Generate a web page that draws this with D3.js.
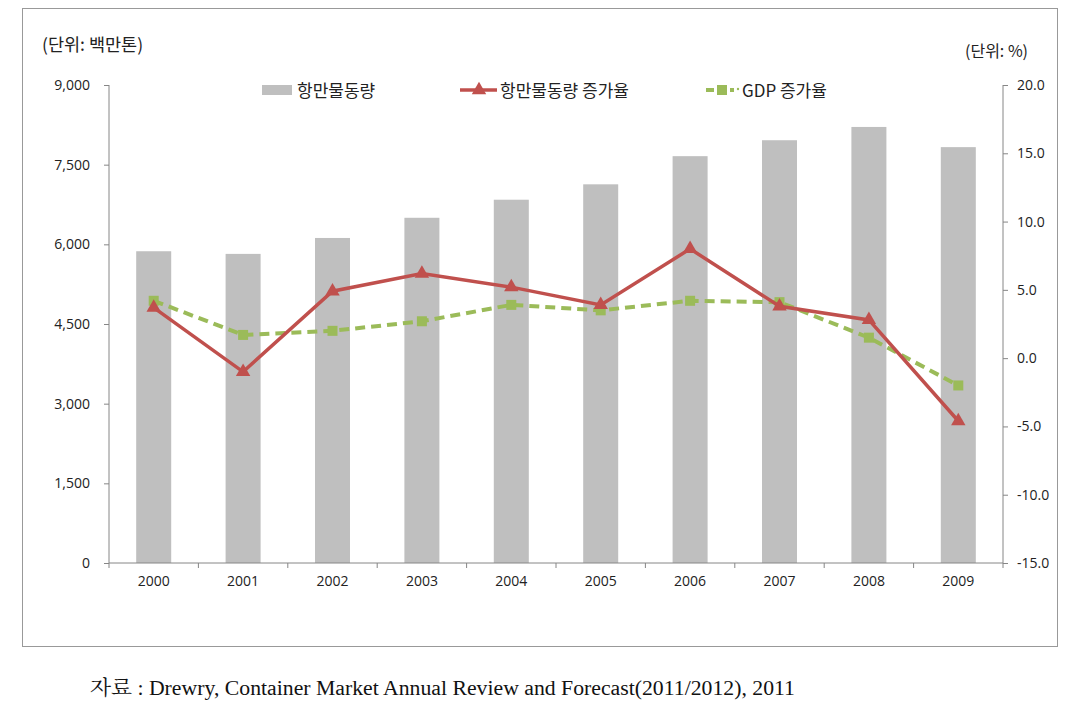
<!DOCTYPE html>
<html><head><meta charset="utf-8">
<script src="https://cdn.jsdelivr.net/npm/d3@7"></script>
<style>body{margin:0;background:#fff}svg text{font-family:"Noto Sans CJK KR","Noto Sans",sans-serif}</style>
</head><body>
<svg id="c" width="1067" height="719"></svg>
<script>
const years = ["2000","2001","2002","2003","2004","2005","2006","2007","2008","2009"];
const throughput = [5870,5820,6120,6500,6840,7130,7660,7960,8210,7830];
const throughputGrowth = [3.7,-1.0,4.9,6.2,5.2,3.9,8.0,3.8,2.8,-4.6];
const gdpGrowth = [4.2,1.7,2.0,2.7,3.9,3.5,4.2,4.1,1.5,-2.0];
const leftTicks = [0,1500,3000,4500,6000,7500,9000];
const rightTicks = [-15,-10,-5,0,5,10,15,20];
const seriesNames = ["항만물동량","항만물동량 증가율","GDP 증가율"];

const svg = d3.select("#c");
svg.append("rect").attr("x",22.5).attr("y",8.5).attr("width",1035).attr("height",638)
  .attr("fill","#fff").attr("stroke","#999").attr("stroke-width",1);

const L=109, R=1003, T=85, B=563;
const xc = d3.scaleBand().domain(years).range([L,R]);
const yL = d3.scaleLinear().domain([0,9000]).range([B,T]);
const yR = d3.scaleLinear().domain([-15,20]).range([B,T]);

svg.selectAll(".bar").data(throughput).join("rect")
  .attr("x",(d,i)=>xc(years[i])+xc.bandwidth()/2-17.5)
  .attr("width",35)
  .attr("y",d=>yL(d)).attr("height",d=>B-yL(d)).attr("fill","#bfbfbf");

const loc = d3.formatLocale({decimal:".",thousands:",",grouping:[3],currency:["",""],minus:"-"});
const axColor="#868686";
const gl = svg.append("g").attr("transform",`translate(${L},0)`)
  .call(d3.axisLeft(yL).tickValues(leftTicks).tickFormat(loc.format(",")).tickSize(5).tickPadding(14));
const gr = svg.append("g").attr("transform",`translate(${R},0)`)
  .call(d3.axisRight(yR).tickValues(rightTicks).tickFormat(loc.format(".1f")).tickSize(5).tickPadding(9));
const gx = svg.append("g").attr("transform",`translate(0,${B})`)
  .call(d3.axisBottom(xc).tickSize(0).tickPadding(13));
svg.selectAll(".xt").data(d3.range(years.length+1)).join("line")
  .attr("x1",i=>L+i*xc.step()).attr("x2",i=>L+i*xc.step())
  .attr("y1",B).attr("y2",B+5).attr("stroke",axColor);
[gl,gr,gx].forEach(g=>{
  g.selectAll("path").attr("stroke",axColor);
  g.selectAll("line").attr("stroke",axColor);
  g.selectAll("text").attr("fill","#222").attr("font-size","14px")
    .style("font-family","'Open Sans','Noto Sans',sans-serif");
});
gl.select(".domain").attr("d",`M0,${T}V${B}`);
gr.select(".domain").attr("d",`M0,${T}V${B}`);
gx.select(".domain").attr("d",`M${L},0H${R}`);

const cx = i=>xc(years[i])+xc.bandwidth()/2;
const lineG = d3.line().x((d,i)=>cx(i)).y(d=>yR(d));
svg.append("path").attr("d",lineG(gdpGrowth)).attr("fill","none")
  .attr("stroke","#9bbb59").attr("stroke-width",4).attr("stroke-dasharray","10,6");
svg.selectAll(".gm").data(gdpGrowth).join("rect")
  .attr("x",(d,i)=>cx(i)-5).attr("y",d=>yR(d)-5).attr("width",10).attr("height",10)
  .attr("fill","#9bbb59");
svg.append("path").attr("d",lineG(throughputGrowth)).attr("fill","none")
  .attr("stroke","#c0504d").attr("stroke-width",3.5);
const tri = d3.symbol().type(d3.symbolTriangle).size(90);
svg.selectAll(".rm").data(throughputGrowth).join("path")
  .attr("d",tri).attr("transform",(d,i)=>`translate(${cx(i)},${yR(d)})`)
  .attr("fill","#c0504d");

svg.append("text").attr("x",42).attr("y",51).attr("font-size","17.5px").attr("fill","#222").text("(단위: 백만톤)");
svg.append("text").attr("x",965).attr("y",57).attr("font-size","16px").attr("fill","#222").text("(단위: %)");

const lg = svg.append("g").attr("font-size","17px");
lg.append("rect").attr("x",262).attr("y",85).attr("width",30).attr("height",10).attr("fill","#bfbfbf");
lg.append("text").attr("x",297).attr("y",97).attr("fill","#222").text(seriesNames[0]);
lg.append("line").attr("x1",460).attr("x2",497).attr("y1",90).attr("y2",90).attr("stroke","#c0504d").attr("stroke-width",3.5);
lg.append("path").attr("d",tri).attr("transform","translate(479,90)").attr("fill","#c0504d");
lg.append("text").attr("x",500).attr("y",97).attr("fill","#222").text(seriesNames[1]);
lg.append("line").attr("x1",706).attr("x2",734).attr("y1",90).attr("y2",90).attr("stroke","#9bbb59").attr("stroke-width",4).attr("stroke-dasharray","8,4");
lg.append("rect").attr("x",717).attr("y",85).attr("width",10).attr("height",10).attr("fill","#9bbb59");
lg.append("circle").attr("cx",738).attr("cy",89).attr("r",1.2).attr("fill","#9bbb59");
lg.append("text").attr("x",742).attr("y",97).attr("fill","#222").text(seriesNames[2]);

svg.append("text").attr("x",90).attr("y",695).attr("font-size","20px").attr("fill","#111")
  .attr("textLength",705).attr("lengthAdjust","spacingAndGlyphs")
  .style("font-family","'Liberation Serif','Noto Serif CJK KR','Noto Sans CJK KR',serif")
  .text("자료 : Drewry, Container Market Annual Review and Forecast(2011/2012), 2011");
</script>
</body></html>
